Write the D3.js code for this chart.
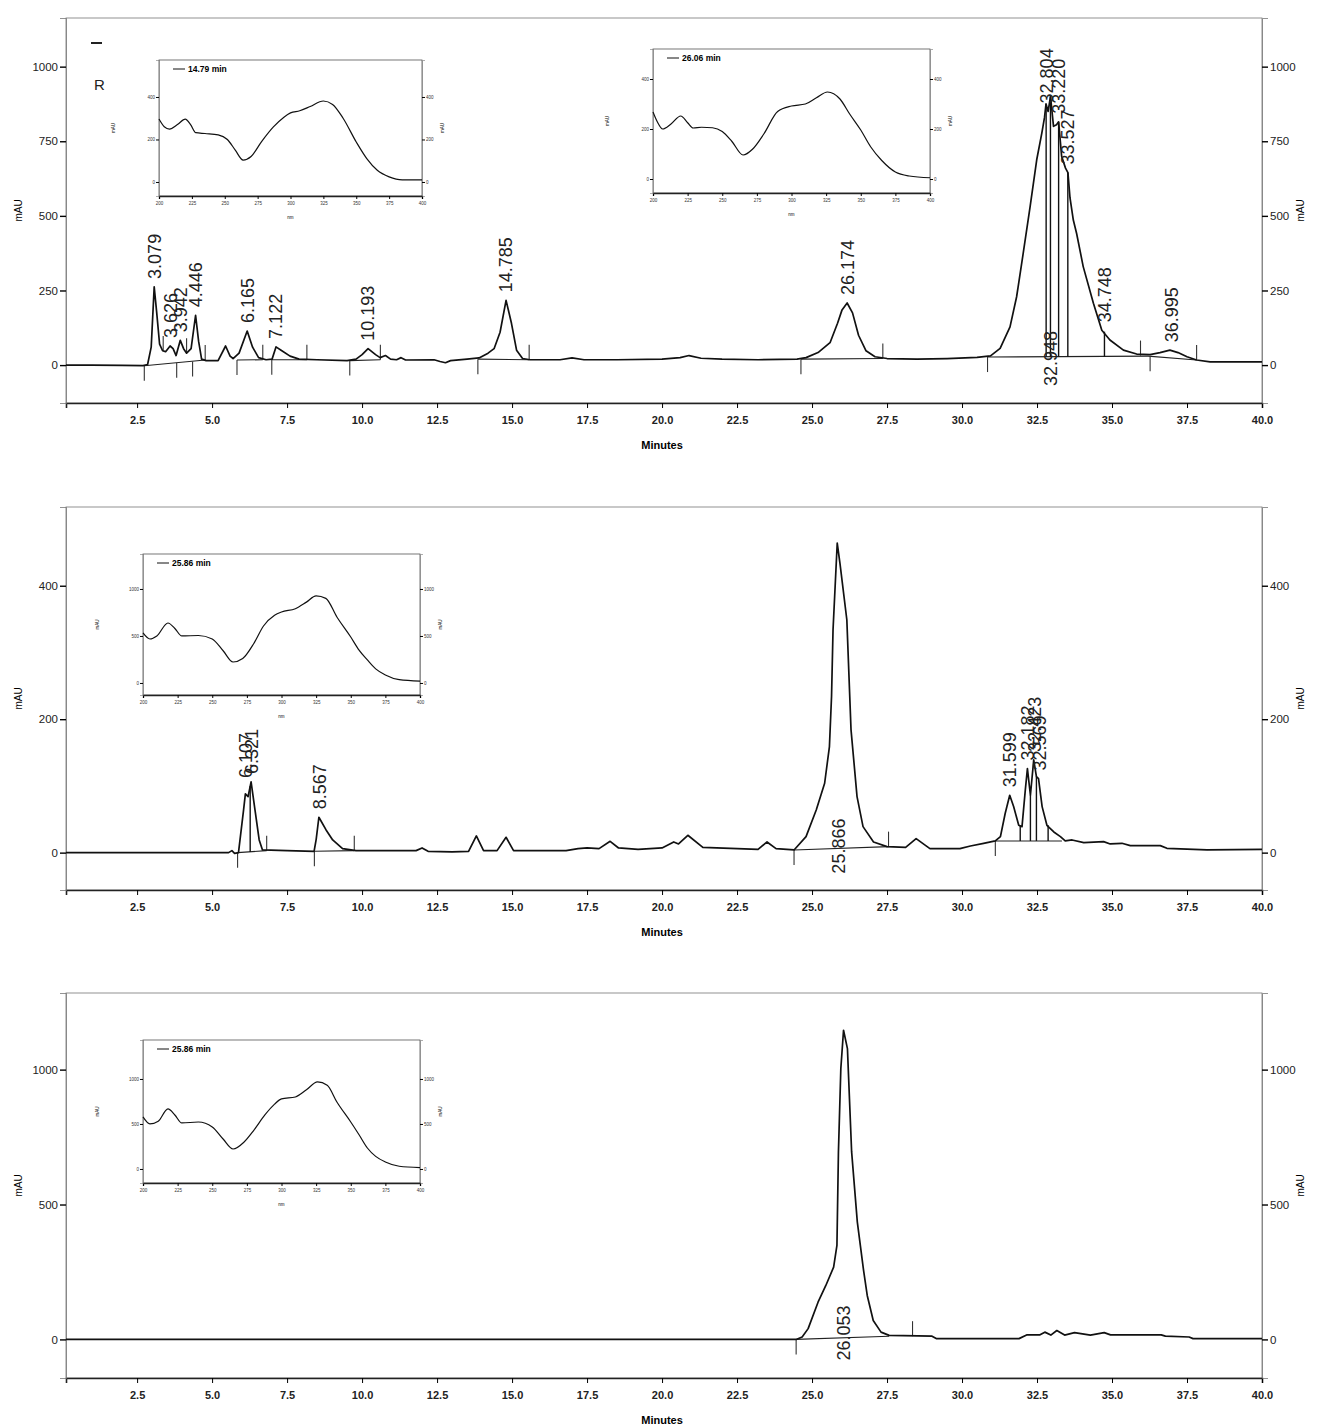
<!DOCTYPE html>
<html>
<head>
<meta charset="utf-8">
<script src="https://cdn.jsdelivr.net/npm/d3@7"></script>
<style>
body { margin: 0; background: #fff; }
svg { font-family: "Liberation Sans", Arial, sans-serif; }
</style>
</head>
<body>
<svg id="chart" width="1318" height="1425"></svg>
<script>
// ---- chromatograms: [minutes, mAU] ----
var trace1 = [[0.13,0],[1.0,0],[2.0,-1],[2.7,-2],[2.85,2],[2.97,60],[3.07,262],[3.15,180],[3.25,70],[3.35,48],[3.45,45],
  [3.6,64],[3.7,55],[3.8,32],[3.94,83],[4.05,55],[4.15,40],[4.3,55],[4.45,167],[4.55,80],[4.65,20],[4.8,15],[5.2,15],
  [5.45,64],[5.6,30],[5.7,22],[5.9,40],[6.17,114],[6.35,60],[6.55,25],[6.8,18],[7.0,20],[7.13,61],[7.3,50],[7.6,30],
  [7.9,20],[8.5,18],[9.5,15],[9.8,20],[10.0,35],[10.2,55],[10.45,35],[10.6,25],[10.78,32],[10.95,20],[11.15,18],[11.3,25],
  [11.45,17],[12.4,18],[12.6,12],[12.78,8],[12.95,15],[13.5,20],[13.9,24],[14.2,40],[14.4,55],[14.6,110],[14.8,217],
  [14.98,140],[15.15,50],[15.35,22],[15.6,18],[16.6,18],[17.0,24],[17.4,18],[18.5,18],[20.0,20],[20.6,25],[20.9,32],
  [21.3,23],[22.0,20],[23.2,18],[24.5,20],[24.8,25],[25.2,42],[25.6,75],[25.85,140],[26.0,185],[26.17,208],[26.35,175],
  [26.55,100],[26.8,48],[27.1,28],[27.5,22],[28.5,20],[29.5,22],[30.5,26],[30.95,31],[31.27,56],[31.6,128],[31.82,229],
  [32.04,375],[32.27,531],[32.49,688],[32.66,777],[32.75,830],[32.8,875],[32.87,850],[32.95,900],[33.05,800],[33.15,805],
  [33.22,815],[33.32,700],[33.45,660],[33.53,645],[33.6,560],[33.71,486],[33.82,441],[34.04,330],[34.38,207],[34.66,117],
  [34.93,84],[35.38,50],[35.82,37],[36.27,35],[36.6,42],[36.93,50],[37.2,42],[37.5,28],[37.82,17],[38.27,11],[40,11]];

var trace2 = [[0.13,0],[3.0,0],[5.55,0],[5.66,3],[5.75,-1],[5.88,0],[6.05,64],[6.11,88],[6.2,84],[6.3,106],[6.43,64],
  [6.57,19],[6.68,4],[7.5,3],[8.4,2],[8.47,20],[8.56,53],[8.8,34],[9.02,19],[9.35,6],[9.8,3],[11.8,3],[12.0,7],[12.2,2],
  [13.0,1],[13.55,2],[13.81,25],[14.05,3],[14.5,3],[14.8,23],[15.05,3],[16.8,3],[17.2,6],[17.5,7],[17.9,6],[18.27,17],
  [18.55,7],[19.2,5],[20.0,7],[20.39,16],[20.55,13],[20.86,26],[21.36,8],[23.2,5],[23.5,16],[23.8,6],[24.4,4],[24.8,24],
  [25.14,64],[25.42,104],[25.58,159],[25.65,234],[25.7,334],[25.84,464],[25.93,434],[26.16,349],[26.3,184],[26.5,84],
  [26.7,39],[27.05,16],[27.5,9],[28.12,8],[28.47,21],[28.93,6],[29.93,6],[30.28,10],[30.72,14],[31.11,17.5],[31.28,24],
  [31.44,59],[31.59,86],[31.72,69],[31.89,41],[32.0,39],[32.11,94],[32.18,126],[32.28,86],[32.39,139],[32.48,114],
  [32.55,111],[32.67,69],[32.83,41],[33.06,31],[33.28,24],[33.44,17.5],[33.67,19],[34.06,15],[34.72,16.5],[34.94,13],
  [35.33,14],[35.61,10.5],[36.61,10.5],[36.83,6.5],[38.17,4],[40,5]];

var trace3 = [[0.13,0],[24.47,0],[24.67,9],[24.87,40],[25.2,138],[25.46,200],[25.72,268],[25.83,349],[25.88,695],
  [25.96,1004],[26.05,1146],[26.18,1078],[26.32,695],[26.51,435],[26.71,262],[26.84,163],[27.04,70],[27.3,27],[27.57,15],
  [29.0,12],[29.14,3],[31.9,3],[32.17,17],[32.6,17],[32.76,27],[32.96,16],[33.16,33],[33.42,16],[33.75,25],[34.28,16],
  [34.74,25],[34.95,17],[36.64,17],[36.78,12],[37.57,9],[37.7,3],[40,3]];

// peak labels above apex: [label, minutes, apex mAU]
var labels1 = [["3.079",3.079,262],["3.626",3.626,64],["3.942",3.942,83],["4.446",4.446,167],["6.165",6.165,114],
  ["7.122",7.122,61],["10.193",10.193,55],["14.785",14.785,217],["26.174",26.174,208],["32.804",32.804,850],
  ["33.220",33.220,815],["33.527",33.527,645],["34.748",34.748,117],["36.995",36.995,50]];
var labels2 = [["6.107",6.107,100],["6.321",6.321,106],["8.567",8.567,53],["31.599",31.599,86],["32.182",32.182,126],
  ["32.423",32.423,139],["32.569",32.569,111]];
var labels3 = [];
// labels written under the baseline
var below1 = [["32.948",32.948]];
var below2 = [["25.866",25.866]];
var below3 = [["26.053",26.053]];

// integration baselines [t1, v1, t2, v2]
var base1 = [[2.74,-2,4.77,17],[5.83,17,6.69,18],[6.99,18,8.16,18],[9.59,15,10.61,18],[13.86,20,15.57,18],
  [24.63,20,27.36,22],[30.85,27,36.2,30],[36.2,30,37.82,17]];
var base2 = [[5.85,0,6.82,3],[8.41,2,9.74,3],[24.4,4,27.55,9],[31.11,17.5,33.33,17.5]];
var base3 = [[24.47,0,27.57,12]];

// start/end marks [t, mAU, direction]
var marks1 = [[2.74,-2,-1],[3.37,47,1],[3.82,8,-1],[4.15,40,1],[4.35,12,-1],[4.77,17,1],[5.83,17,-1],[6.69,18,1],
  [6.99,18,-1],[8.16,18,1],[9.59,15,-1],[10.61,18,1],[13.86,20,-1],[15.57,18,1],[24.63,20,-1],[27.36,22,1],
  [30.85,27,-1],[35.95,32,1],[36.27,30,-1],[37.82,17,1]];
var marks2 = [[5.85,0,-1],[6.82,3,1],[8.41,2,-1],[9.74,3,1],[24.4,4,-1],[27.55,9,1],[31.11,17.5,-1]];
var marks3 = [[24.47,0,-1],[28.35,12,1]];

// drop lines [t, from mAU, to mAU]
var drops1 = [[32.804,28,875],[32.948,28,900],[33.22,28,815],[33.527,28,645],[34.748,28,112]];
var drops2 = [[6.27,1,100],[31.94,17.5,40],[32.28,17.5,86],[32.48,17.5,114],[32.87,17.5,41]];
var drops3 = [];

var yTicks1 = [0,250,500,750,1000];
var yTicks2 = [0,200,400];
var yTicks3 = [0,500,1000];
var xTicks = d3.range(2.5, 40.01, 2.5);

// ---- UV spectra in the insets: [nm, mAU] ----
var spec1 = [[200,296],[204,260],[208,249],[214,270],[220,296],[224,270],[228,232],[235,228],[245,222],[252,200],
  [258,150],[264,103],[270,120],[278,190],[287,259],[295,305],[300,325],[307,335],[315,355],[325,381],[332,365],
  [340,300],[350,188],[358,110],[366,55],[375,24],[385,10],[400,10]];
var spec2 = [[200,268],[203,230],[207,200],[213,220],[220,252],[225,225],[229,204],[235,207],[243,205],[250,190],
  [257,150],[265,96],[272,120],[280,180],[290,270],[300,292],[310,300],[318,325],[326,348],[335,320],[342,260],
  [350,196],[357,130],[365,75],[375,28],[385,12],[400,5]];
var spec3 = [[200,532],[205,468],[210,500],[218,638],[223,580],[228,500],[240,505],[250,468],[258,340],[265,223],
  [272,260],[280,420],[287,606],[295,720],[300,755],[310,790],[318,860],[325,926],[332,900],[340,702],[350,489],
  [356,350],[362,245],[368,150],[375,85],[385,35],[400,20]];
var spec4 = [[200,578],[205,500],[211,530],[218,667],[223,600],[228,511],[240,522],[250,467],[258,330],[265,222],
  [273,300],[280,430],[288,600],[295,720],[300,778],[310,800],[318,880],[326,967],[333,930],[340,744],[350,522],
  [356,380],[362,233],[368,140],[375,78],[385,30],[400,15]];
var specTicks1 = [0,200,400], specTicks3 = [0,500,1000];
var nmTicks = d3.range(200, 401, 25);

var svg = d3.select("#chart");
var left = 66, right = 1262;
var x = d3.scaleLinear().domain([0.13, 40]).range([left, right]);

var panels = [
  {trace: trace1, top: 18, bottom: 403, dom: [-127, 1163], ticks: yTicks1, labels: labels1, below: below1,
   base: base1, marks: marks1, drops: drops1},
  {trace: trace2, top: 507, bottom: 890, dom: [-56, 518], ticks: yTicks2, labels: labels2, below: below2,
   base: base2, marks: marks2, drops: drops2},
  {trace: trace3, top: 993, bottom: 1378, dom: [-143, 1284], ticks: yTicks3, labels: labels3, below: below3,
   base: base3, marks: marks3, drops: drops3}
];

panels.forEach(function(p) {
  var y = d3.scaleLinear().domain(p.dom).range([p.bottom, p.top]);
  var g = svg.append("g");

  // frame
  g.append("rect").attr("x", left).attr("y", p.top).attr("width", right - left).attr("height", p.bottom - p.top)
    .style("fill", "none").style("stroke", "#777").style("stroke-width", 0.8);

  var ax = g.append("g").attr("transform", "translate(0," + p.bottom + ")")
    .call(d3.axisBottom(x).tickValues(xTicks).tickFormat(d3.format(".1f")).tickSize(5).tickPadding(8));
  ax.select(".domain").style("stroke", "#222").style("stroke-width", 1.6);
  ax.selectAll("text").style("font-size", "11px").style("font-weight", "bold").style("fill", "#222");

  var al = g.append("g").attr("transform", "translate(" + left + ",0)")
    .call(d3.axisLeft(y).tickValues(p.ticks).tickFormat(d3.format("d")).tickSize(6).tickPadding(2));
  var ar = g.append("g").attr("transform", "translate(" + right + ",0)")
    .call(d3.axisRight(y).tickValues(p.ticks).tickFormat(d3.format("d")).tickSize(6).tickPadding(2));
  [al, ar].forEach(function(a) {
    a.select(".domain").style("stroke", "#777").style("stroke-width", 0.8);
    a.selectAll("line").style("stroke-width", 1.4);
    a.selectAll("text").style("font-size", "11.5px").style("fill", "#222");
  });

  var mid = (p.top + p.bottom) / 2;
  g.append("text").attr("transform", "translate(22," + mid + ")rotate(-90)").attr("text-anchor", "middle")
    .style("font-size", "10px").text("mAU");
  g.append("text").attr("transform", "translate(1304," + mid + ")rotate(-90)").attr("text-anchor", "middle")
    .style("font-size", "10px").text("mAU");
  g.append("text").attr("x", 662).attr("y", p.bottom + 46).attr("text-anchor", "middle")
    .style("font-size", "11px").style("font-weight", "bold").text("Minutes");

  // integration baselines, marks, drop lines
  g.selectAll(".bl").data(p.base).enter().append("line")
    .attr("x1", function(d) { return x(d[0]); }).attr("y1", function(d) { return y(d[1]); })
    .attr("x2", function(d) { return x(d[2]); }).attr("y2", function(d) { return y(d[3]); })
    .style("stroke", "#222").style("stroke-width", 1.1);
  g.selectAll(".mk").data(p.marks).enter().append("line")
    .attr("x1", function(d) { return x(d[0]); }).attr("x2", function(d) { return x(d[0]); })
    .attr("y1", function(d) { return y(d[1]); }).attr("y2", function(d) { return y(d[1]) - 15 * d[2]; })
    .style("stroke", "#333").style("stroke-width", 1.1);
  g.selectAll(".dp").data(p.drops).enter().append("line")
    .attr("x1", function(d) { return x(d[0]); }).attr("x2", function(d) { return x(d[0]); })
    .attr("y1", function(d) { return y(d[1]); }).attr("y2", function(d) { return y(d[2]); })
    .style("stroke", "#111").style("stroke-width", 1.4);

  var line = d3.line().x(function(d) { return x(d[0]); }).y(function(d) { return y(d[1]); });
  g.append("path").datum(p.trace).attr("d", line)
    .style("fill", "none").style("stroke", "#111").style("stroke-width", 1.7).style("stroke-linejoin", "round");

  g.selectAll(".pl").data(p.labels).enter().append("text")
    .attr("transform", function(d) { return "translate(" + (x(d[1]) + 6.5) + "," + (y(d[2]) - 8) + ")rotate(-90)"; })
    .style("font-size", "18px").style("fill", "#222").text(function(d) { return d[0]; });
  g.selectAll(".pb").data(p.below).enter().append("text")
    .attr("transform", function(d) { return "translate(" + (x(d[1]) + 6.5) + "," + (y(0) + 21) + ")rotate(-90)"; })
    .style("font-size", "18px").style("fill", "#222").text(function(d) { return d[0]; });
});

// stray marks in the top-left corner of the first panel
svg.append("line").attr("x1", 91).attr("x2", 102).attr("y1", 43).attr("y2", 43).style("stroke", "#222").style("stroke-width", 2);
svg.append("text").attr("x", 94).attr("y", 90).style("font-size", "15px").style("fill", "#222").text("R");

// ---- insets ----
function inset(box, spec, dom, ticks, legend) {
  var g = svg.append("g");
  var sx = d3.scaleLinear().domain([200, 400]).range([box.x0, box.x1]);
  var sy = d3.scaleLinear().domain(dom).range([box.y1, box.y0]);
  g.append("rect").attr("x", box.x0).attr("y", box.y0).attr("width", box.x1 - box.x0).attr("height", box.y1 - box.y0)
    .style("fill", "#fff").style("stroke", "#555").style("stroke-width", 0.8);
  var bx = g.append("g").attr("transform", "translate(0," + box.y1 + ")")
    .call(d3.axisBottom(sx).tickValues(nmTicks).tickFormat(d3.format("d")).tickSize(3).tickPadding(3));
  bx.select(".domain").style("stroke", "#222").style("stroke-width", 1.3);
  var ly = g.append("g").attr("transform", "translate(" + box.x0 + ",0)")
    .call(d3.axisLeft(sy).tickValues(ticks).tickFormat(d3.format("d")).tickSize(3).tickPadding(1));
  var ry = g.append("g").attr("transform", "translate(" + box.x1 + ",0)")
    .call(d3.axisRight(sy).tickValues(ticks).tickFormat(d3.format("d")).tickSize(3).tickPadding(1));
  [bx, ly, ry].forEach(function(a) {
    a.selectAll("text").style("font-size", "4.5px").style("fill", "#333");
  });
  [ly, ry].forEach(function(a) { a.select(".domain").style("stroke", "#777").style("stroke-width", 0.6); });
  var my = (box.y0 + box.y1) / 2;
  g.append("text").attr("transform", "translate(" + (box.x0 - 44) + "," + my + ")rotate(-90)").attr("text-anchor", "middle")
    .style("font-size", "4.5px").text("mAU");
  g.append("text").attr("transform", "translate(" + (box.x1 + 22) + "," + my + ")rotate(-90)").attr("text-anchor", "middle")
    .style("font-size", "4.5px").text("mAU");
  g.append("text").attr("x", (box.x0 + box.x1) / 2).attr("y", box.y1 + 23).attr("text-anchor", "middle")
    .style("font-size", "4.5px").text("nm");
  g.append("line").attr("x1", box.x0 + 14).attr("x2", box.x0 + 26).attr("y1", box.y0 + 9).attr("y2", box.y0 + 9)
    .style("stroke", "#111").style("stroke-width", 1);
  g.append("text").attr("x", box.x0 + 29).attr("y", box.y0 + 12).style("font-size", "8.5px").style("font-weight", "bold")
    .text(legend);
  var line = d3.line().x(function(d) { return sx(d[0]); }).y(function(d) { return sy(d[1]); }).curve(d3.curveMonotoneX);
  g.append("path").datum(spec).attr("d", line).style("fill", "none").style("stroke", "#111").style("stroke-width", 1.2);
}

inset({x0: 159, x1: 422, y0: 60, y1: 196}, spec1, [-66, 574], specTicks1, "14.79 min");
inset({x0: 653, x1: 930, y0: 49, y1: 193}, spec2, [-56, 520], specTicks1, "26.06 min");
inset({x0: 143, x1: 420, y0: 554, y1: 695}, spec3, [-128, 1372], specTicks3, "25.86 min");
inset({x0: 143, x1: 420, y0: 1040, y1: 1183}, spec4, [-156, 1433], specTicks3, "25.86 min");
</script>
</body>
</html>
